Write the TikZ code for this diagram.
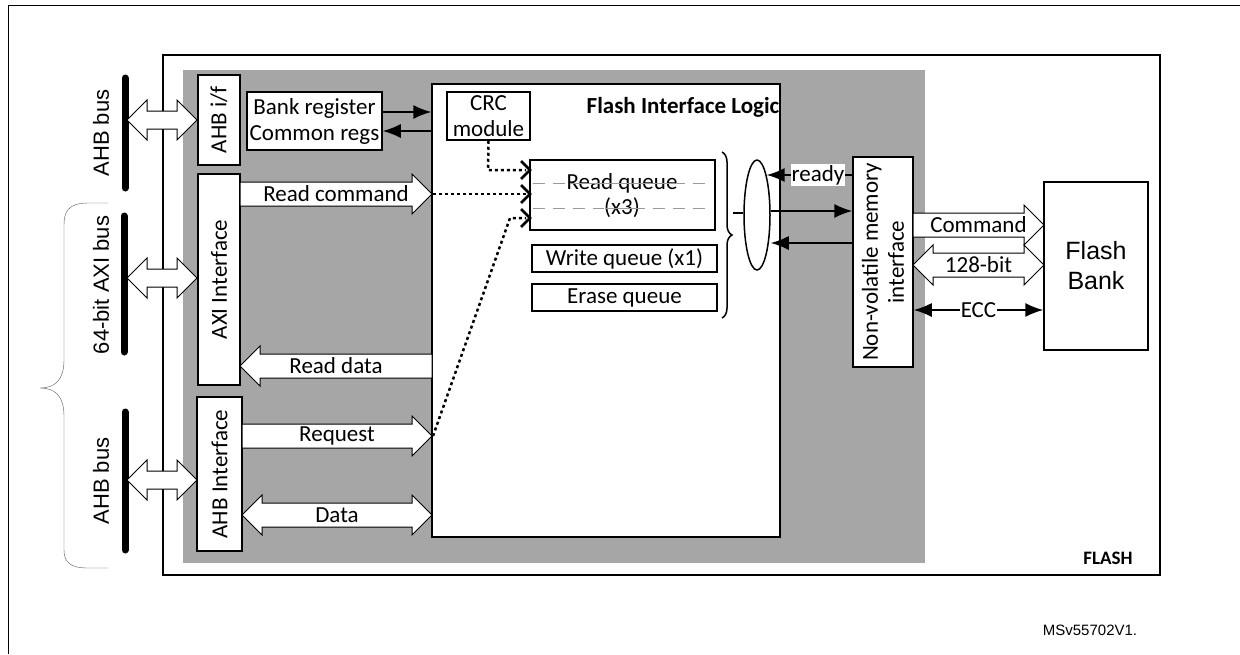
\documentclass[tikz,border=0pt]{standalone}
\usepackage{fontspec}
\setmainfont{Carlito}
\newfontfamily\arialfont{Liberation Sans}
\usepackage{tikz}
\usetikzlibrary{decorations.pathreplacing,arrows.meta,calc,shapes.geometric}
\definecolor{flashgray}{HTML}{A6A6A6}
\definecolor{dashgray}{HTML}{9A9A9A}

% fat block arrows (x from, x to, y, label)
\newcommand{\fatright}[4]{%
  \draw[fat] (#1,#3-12) -- (#2-20,#3-12) -- (#2-20,#3-20) -- (#2,#3)
    -- (#2-20,#3+20) -- (#2-20,#3+12) -- (#1,#3+12) -- cycle;
  \node[lbl] at ({(#1+#2)/2},#3) {#4};}
\newcommand{\fatleft}[4]{%
  \draw[fat] (#2,#3-12) -- (#1+20,#3-12) -- (#1+20,#3-20) -- (#1,#3)
    -- (#1+20,#3+20) -- (#1+20,#3+12) -- (#2,#3+12) -- cycle;
  \node[lbl] at ({(#1+#2)/2},#3) {#4};}
\newcommand{\fatboth}[5]{%
  \draw[fat] (#1,#3) -- (#1+20,#3-20) -- (#1+20,#3-#5) -- (#2-20,#3-#5)
    -- (#2-20,#3-20) -- (#2,#3) -- (#2-20,#3+20) -- (#2-20,#3+#5)
    -- (#1+20,#3+#5) -- (#1+20,#3+20) -- cycle;
  \node[lbl] at ({(#1+#2)/2},#3) {#4};}

\begin{document}
\begin{tikzpicture}[x=1pt,y=-1pt,>={Latex[length=18pt,width=14pt]},
  box/.style={draw,line width=1.5pt,fill=white,inner sep=0pt},
  lbl/.style={font=\fontsize{23}{26}\selectfont,inner sep=1pt},
  fat/.style={draw,fill=white,line width=1pt},
  thin/.style={line width=1.5pt},
  bus/.style={line width=7pt,line cap=round},
  dots/.style={line width=2.5pt,dash pattern=on 3pt off 3pt},
  busname/.style={font=\arialfont\fontsize{22}{24}\selectfont,rotate=90}]

  \useasboundingbox (0,0) rectangle (1240,654);
  \draw[thick] (8,654) -- (8,5) -- (1240,5);

  % FLASH block and grey area
  \draw[line width=2pt] (163,55) rectangle (1160,575);
  \fill[flashgray] (183,70) rectangle (925,563);
  \node[font=\bfseries\fontsize{19}{21}\selectfont] (flash) at (1108,558) {FLASH};

  % left buses
  \draw[bus] (125,78) -- (125,188);
  \draw[bus] (124,216) -- (124,352);
  \draw[bus] (125,412) -- (125,550);
  \node[busname] (ahb1) at (101,133) {AHB bus};
  \node[busname] (axi) at (101,285) {64-bit AXI bus};
  \node[busname] (ahb2) at (101,481) {AHB bus};
  \draw[gray!70!black] (108,203) -- (88,203) .. controls (68,203) and (64,212) .. (64,225)
    -- (64,360) .. controls (64,380) and (55,388) .. (40,388)
    .. controls (55,388) and (64,396) .. (64,416)
    -- (64,550) .. controls (64,562) and (70,568) .. (88,568) -- (108,568);

  % interface boxes
  \node[box,minimum width=42pt,minimum height=90pt] (ahbif) at (219,120) {};
  \node[lbl,rotate=90] at (ahbif) {AHB i/f};
  \node[box,minimum width=42pt,minimum height=211pt] (axiif) at (219,279.5) {};
  \node[lbl,rotate=90] at (axiif) {AXI Interface};
  \node[box,minimum width=45pt,minimum height=154pt] (ahbint) at (219.5,474) {};
  \node[lbl,rotate=90] at (ahbint) {AHB Interface};
  \node[box,minimum width=135pt,minimum height=58pt,align=center,lbl,draw,fill=white,line width=1.5pt]
    (bank) at (314.5,121) {Bank register\\Common regs};

  \fatboth{127}{197}{120}{}{9}
  \fatboth{127}{197}{278}{}{9}
  \fatboth{127}{197}{480}{}{9}

  % flash interface logic
  \node[box,minimum width=348pt,minimum height=453pt] (fil) at (606,310.5) {};
  \node[font=\bfseries\fontsize{23}{26}\selectfont] at (683,107) {Flash Interface Logic};
  \node[box,lbl,minimum width=83pt,minimum height=48pt,align=center,draw,fill=white,line width=1.5pt]
    (crc) at (488.5,116) {CRC\\module};
  \node[box,minimum width=185pt,minimum height=70pt] (rq) at (622.5,195) {};
  \draw[dashgray,thick,dash pattern=on 12pt off 8pt] (533,183) -- (712,183) (533,208) -- (712,208);
  \node[lbl,fill=white,inner sep=0pt] at (622,183) {Read queue};
  \node[lbl,fill=white,inner sep=0pt] at (622,208) {(x3)};
  \draw[dashgray,thick] (570,183) -- (675,183) (605,208) -- (640,208);
  \node[box,lbl,minimum width=185pt,minimum height=27pt,draw,fill=white,line width=1.5pt] (wq) at (624.5,258.5) {Write queue (x1)};
  \node[box,lbl,minimum width=185pt,minimum height=27pt,draw,fill=white,line width=1.5pt] (eq) at (624.5,297.5) {Erase queue};
  \draw[line width=1.5pt,decorate,decoration={brace,amplitude=10pt}] (722,152) -- (722,318);
  \node[draw,line width=1.5pt,fill=white,ellipse,minimum width=26pt,minimum height=110pt,inner sep=0pt] (sel) at (757,215) {};
  \draw[thin] (733,213) -- (sel.west |- 0,213);

  \draw[thin,->] ($(bank.east)+(0,-9)$) -- (fil.west |- 0,112);
  \draw[thin,->] (fil.west |- 0,131) -- ($(bank.east)+(0,10)$);

  \fatright{240}{432}{194}{Read command}
  \fatleft{240}{432}{366}{Read data}
  \fatright{242}{432}{436}{Request}
  \fatboth{242}{432}{515}{Data}{12}

  % dotted request paths
  \draw[dots] (crc.south) -- (488,170) -- (526,170);
  \draw[dots] (433,194) -- (526,194);
  \draw[dots] (433,436) -- (510,218) -- (526,218);
  \foreach \yy in {170,194,218}
    \draw[line width=2.5pt] (521,\yy-9) -- (530,\yy) -- (521,\yy+9);

  % non-volatile memory interface and bank
  \node[box,minimum width=60pt,minimum height=210pt] (nvm) at (883,262) {};
  \node[lbl,rotate=90,align=center] at (nvm) {Non-volatile memory\\interface};
  \draw[thin,->] (nvm.west |- 0,175) -- (sel.north east |- 0,175)
    node[pos=0.4,lbl,fill=white] {ready};
  \draw[thin,->] (sel.east |- 0,211) -- (nvm.west |- 0,211);
  \draw[thin,->] (nvm.west |- 0,243) -- (sel.east |- 0,243);

  \node[box,minimum width=104pt,minimum height=168pt,align=center,
    font=\arialfont\fontsize{25}{30}\selectfont] (bank2) at (1096,266) {Flash\\Bank};
  \fatright{913}{1044}{225}{Command}
  \fatboth{913}{1044}{265}{128-bit}{12}
  \draw[thin,<->] (nvm.east |- 0,310) -- (bank2.west |- 0,310) node[midway,lbl,fill=white] {ECC};

  \node[font=\arialfont\fontsize{15}{17}\selectfont] (ref) at (1090,630) {MSv55702V1.};
\end{tikzpicture}
\end{document}
